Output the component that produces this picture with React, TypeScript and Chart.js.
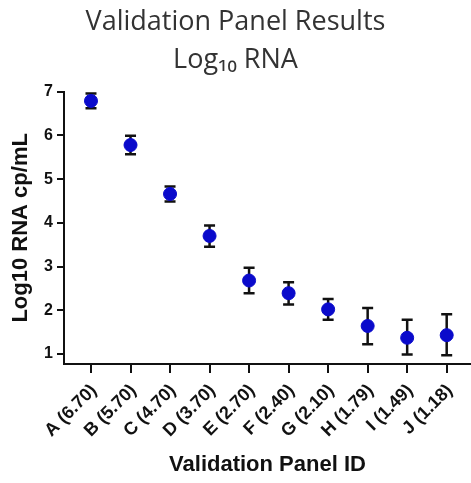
import React, { useEffect, useRef } from "react";
import { Chart, registerables } from "chart.js";

Chart.register(...registerables);

const categories = [
  "A (6.70)", "B (5.70)", "C (4.70)", "D (3.70)", "E (2.70)",
  "F (2.40)", "G (2.10)", "H (1.79)", "I (1.49)", "J (1.18)",
];
const means = [6.79, 5.78, 4.66, 3.7, 2.68, 2.39, 2.02, 1.64, 1.37, 1.43];
const upper = [6.96, 5.99, 4.83, 3.94, 2.97, 2.64, 2.26, 2.05, 1.78, 1.91];
const lower = [6.62, 5.57, 4.49, 3.45, 2.39, 2.13, 1.78, 1.22, 0.99, 0.97];
const yTicks = [1, 2, 3, 4, 5, 6, 7];
const titleLines = ["Validation Panel Results", "Log\u2081\u2080 RNA"];

const errorBarPlugin = {
  id: "errorBars",
  beforeDatasetsDraw(chart: any) {
    const { ctx, scales } = chart;
    const xs = scales.x;
    const ys = scales.y;
    ctx.save();
    ctx.strokeStyle = "#111";
    ctx.lineWidth = 2.5;
    const cap = 5.5;
    means.forEach((_, i) => {
      const x = xs.getPixelForValue(i);
      const yt = ys.getPixelForValue(upper[i]);
      const yb = ys.getPixelForValue(lower[i]);
      ctx.beginPath();
      ctx.moveTo(x, yt);
      ctx.lineTo(x, yb);
      ctx.moveTo(x - cap, yt);
      ctx.lineTo(x + cap, yt);
      ctx.moveTo(x - cap, yb);
      ctx.lineTo(x + cap, yb);
      ctx.stroke();
    });
    ctx.restore();
  },
};

export default function App() {
  const ref = useRef<HTMLCanvasElement | null>(null);
  useEffect(() => {
    if (!ref.current) return;
    const fam = "'Liberation Sans', Arial, sans-serif";
    const yTickFont = { family: fam, weight: "bold" as const, size: 16 };
    const xTickFont = { family: fam, weight: "bold" as const, size: 18 };
    const titleFont = { family: fam, weight: "bold" as const, size: 22 };
    const chart = new Chart(ref.current, {
      type: "scatter",
      data: {
        datasets: [
          {
            data: means.map((v, i) => ({ x: i, y: v })),
            backgroundColor: "#0a0acb",
            borderColor: "#0a0acb",
            pointRadius: 6.5,
            pointHoverRadius: 6.5,
          },
        ],
      },
      plugins: [errorBarPlugin],
      options: {
        responsive: false,
        animation: false,
        layout: { padding: 0, autoPadding: false },
        plugins: {
          legend: { display: false },
          tooltip: { enabled: false },
          title: {
            display: true,
            text: titleLines,
            color: "#333",
            font: { family: "'Open Sans', sans-serif", size: 27, weight: "normal", lineHeight: "38px" },
            padding: { top: 3, bottom: 12.7 },
          },
        },
        scales: {
          x: {
            type: "linear",
            min: -0.683,
            max: 9.615,
            afterFit: (s: any) => { s.height = 119; s.paddingLeft = 0; s.paddingRight = 0; },
            afterBuildTicks: (s: any) => { s.ticks = categories.map((_, i) => ({ value: i })); },
            ticks: {
              color: "#111",
              font: xTickFont,
              minRotation: 45,
              maxRotation: 45,
              padding: 7,
              labelOffset: 3,
              autoSkip: false,
              callback: (v: any) => categories[v] ?? "",
            },
            grid: { drawOnChartArea: false, color: "#111", lineWidth: 2, tickLength: 9 },
            border: { display: true, color: "#111", width: 2 },
            title: { display: true, text: "Validation Panel ID", color: "#111", font: titleFont, padding: { top: 0, bottom: 5 } },
          },
          y: {
            type: "linear",
            min: 0.77,
            max: 7,
            afterFit: (s: any) => { s.width = 64; },
            afterBuildTicks: (s: any) => { s.ticks = yTicks.map((v) => ({ value: v })); },
            ticks: { color: "#111", font: yTickFont, padding: 4 },
            grid: { drawOnChartArea: false, color: "#111", lineWidth: 2, tickLength: 7 },
            border: { display: true, color: "#111", width: 2 },
            title: { display: true, text: "Log10 RNA cp/mL", color: "#111", font: titleFont, padding: { top: 8, bottom: 0 } },
          },
        },
      },
    });
    return () => chart.destroy();
  }, []);
  return (
    <div style={{ position: "fixed", left: 0, top: 0, width: 471, height: 483, background: "#fff" }}>
      <canvas ref={ref} width={471} height={483} style={{ display: "block" }} />
    </div>
  );
}
